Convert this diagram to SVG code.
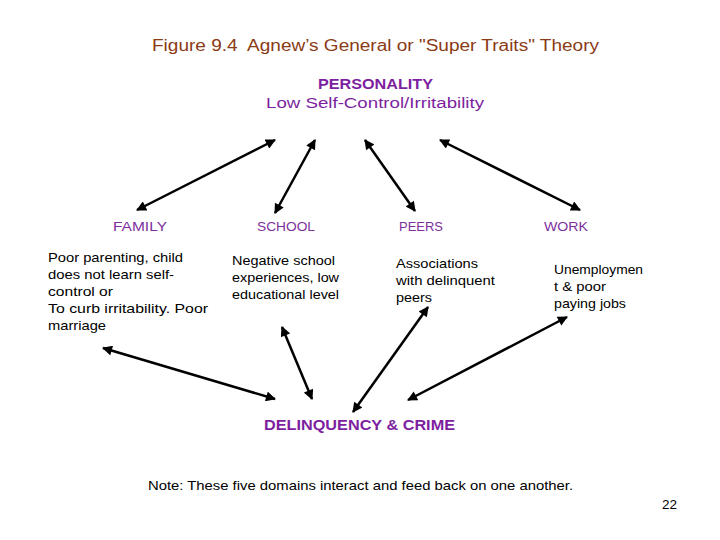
<svg xmlns="http://www.w3.org/2000/svg" width="720" height="540" viewBox="0 0 720 540">
<defs>
<style>
text{font-family:"Liberation Sans","DejaVu Sans",sans-serif;}
.title{font-size:16px;fill:#8a3a14;}
.head{font-size:14px;font-weight:bold;fill:#7d1fa0;}
.sub{font-size:14px;fill:#7d1fa0;}
.lab{font-size:13px;fill:#7d2f9c;}
.body{font-size:13px;fill:#000;}
.conn{stroke:#000;stroke-width:2.5;fill:none;marker-start:url(#ah);marker-end:url(#ah);}
</style>
<marker id="ah" viewBox="0 0 10 10" refX="9" refY="5" markerWidth="4.4" markerHeight="4" orient="auto-start-reverse" markerUnits="strokeWidth">
<path d="M0,0 L10,5 L0,10 z" fill="#000"/>
</marker>
</defs>
<rect width="720" height="540" fill="#fff"/>
<text class="title" x="152" y="51" textLength="447" lengthAdjust="spacingAndGlyphs">Figure 9.4&#160; Agnew’s General or "Super Traits" Theory</text>
<g id="personality">
<text class="head" x="318" y="89" textLength="115" lengthAdjust="spacingAndGlyphs">PERSONALITY</text>
<text class="sub" x="266" y="108" textLength="218" lengthAdjust="spacingAndGlyphs">Low Self-Control/Irritability</text>
</g>
<g id="family">
<text class="lab" x="113" y="231" textLength="54" lengthAdjust="spacingAndGlyphs">FAMILY</text>
<text class="body" x="48" y="262" textLength="135" lengthAdjust="spacingAndGlyphs">Poor parenting, child</text>
<text class="body" x="48" y="279" textLength="126" lengthAdjust="spacingAndGlyphs">does not learn self-</text>
<text class="body" x="48" y="296" textLength="65" lengthAdjust="spacingAndGlyphs">control or</text>
<text class="body" x="48" y="313" textLength="160" lengthAdjust="spacingAndGlyphs">To curb irritability. Poor</text>
<text class="body" x="48" y="330" textLength="58" lengthAdjust="spacingAndGlyphs">marriage</text>
</g>
<g id="school">
<text class="lab" x="257" y="231" textLength="58" lengthAdjust="spacingAndGlyphs">SCHOOL</text>
<text class="body" x="232" y="265" textLength="103" lengthAdjust="spacingAndGlyphs">Negative school</text>
<text class="body" x="232" y="282" textLength="107" lengthAdjust="spacingAndGlyphs">experiences, low</text>
<text class="body" x="232" y="299" textLength="107" lengthAdjust="spacingAndGlyphs">educational level</text>
</g>
<g id="peers">
<text class="lab" x="399" y="231" textLength="44" lengthAdjust="spacingAndGlyphs">PEERS</text>
<text class="body" x="396" y="268" textLength="82" lengthAdjust="spacingAndGlyphs">Associations</text>
<text class="body" x="396" y="285" textLength="99" lengthAdjust="spacingAndGlyphs">with delinquent</text>
<text class="body" x="396" y="302" textLength="36" lengthAdjust="spacingAndGlyphs">peers</text>
</g>
<g id="work">
<text class="lab" x="544" y="231" textLength="44" lengthAdjust="spacingAndGlyphs">WORK</text>
<text class="body" x="554" y="274" textLength="89" lengthAdjust="spacingAndGlyphs">Unemploymen</text>
<text class="body" x="554" y="291" textLength="52" lengthAdjust="spacingAndGlyphs">t &amp; poor</text>
<text class="body" x="554" y="308" textLength="72" lengthAdjust="spacingAndGlyphs">paying jobs</text>
</g>
<g id="delinquency">
<text class="head" x="264" y="430" textLength="191" lengthAdjust="spacingAndGlyphs">DELINQUENCY &amp; CRIME</text>
</g>
<g id="connectors">
<line class="conn" x1="137" y1="210" x2="275" y2="140"/>
<line class="conn" x1="275" y1="213" x2="315" y2="140"/>
<line class="conn" x1="365" y1="140" x2="415" y2="211"/>
<line class="conn" x1="440" y1="140" x2="580" y2="210"/>
<line class="conn" x1="103" y1="348" x2="275" y2="399"/>
<line class="conn" x1="282" y1="327" x2="312" y2="399"/>
<line class="conn" x1="428" y1="307" x2="353" y2="412"/>
<line class="conn" x1="567" y1="317" x2="408" y2="400"/>
</g>
<text class="body" x="148" y="490" textLength="425" lengthAdjust="spacingAndGlyphs">Note: These five domains interact and feed back on one another.</text>
<text class="body" x="662" y="509" textLength="15" lengthAdjust="spacingAndGlyphs">22</text>
</svg>
